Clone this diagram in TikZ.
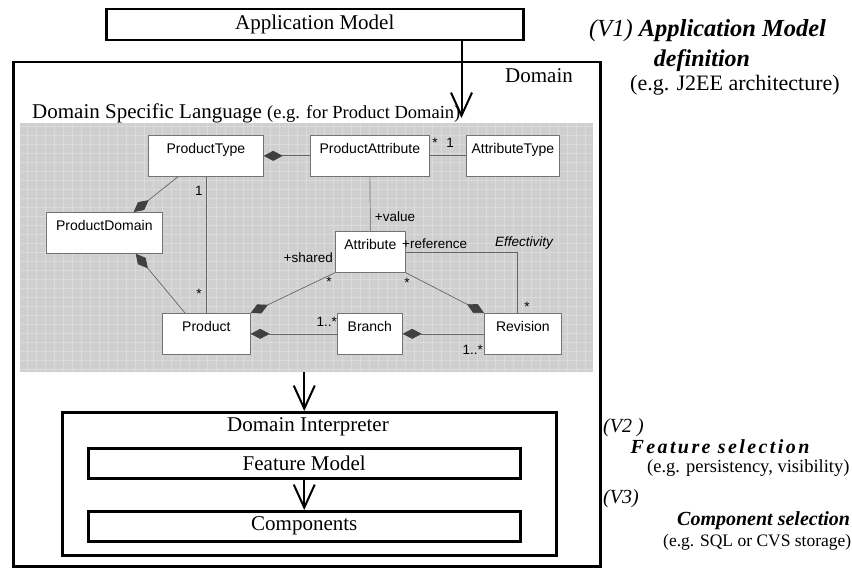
\documentclass[tikz,border=0pt]{standalone}
\usepackage{fontspec}
\setmainfont{Liberation Serif}
\setsansfont{Liberation Sans}
\usetikzlibrary{arrows.meta,calc}

\tikzset{
  bigbox/.style={draw, line width=2.5pt, anchor=north west, inner sep=0pt,
    font=\fontsize{21}{24}\selectfont},
  bigarrow/.style={line width=2pt, -{Straight Barb[length=23pt,width=21pt]}},
  cls/.style={draw=black!55, line width=0.7pt, fill=white, anchor=north west,
    inner xsep=0pt, inner ysep=3pt, minimum height=41pt,
    text height=15pt, text depth=20pt, font=\sffamily\fontsize{14}{16}\selectfont},
  uml/.style={draw=black!60, line width=0.7pt},
  comp/.style={uml, {Diamond[length=19pt,width=10pt,color=black!75,fill=black!75]}-},
  lbl/.style={inner sep=0pt, font=\sffamily\fontsize{13.5}{15}\selectfont},
  txt/.style={inner sep=0pt, font=\fontsize{21}{24}\selectfont},
  note/.style={inner sep=0pt, anchor=west}
}

\begin{document}
\begin{tikzpicture}[x=1pt,y=-1pt]
  \useasboundingbox (0,0) rectangle (852,575);

  % application model and domain frame
  \node (app) at (105,8) [bigbox, minimum width=417pt, minimum height=31pt]{Application Model};
  \node (domain) at (12,61) [bigbox, minimum width=587pt, minimum height=504pt]{};
  \node (domlbl) at (539,76) [txt]{Domain};
  \node (dsltitle) at (32,119) [inner sep=0pt, anchor=base west, font=\fontsize{21}{24}\selectfont]
    {Domain Specific Language {\fontsize{18.5}{20}\selectfont(e.g. for Product Domain)}};

  % grey class diagram panel
  \node (panel) at (20,123) [anchor=north west, fill=black!19, inner sep=0pt,
    minimum width=573pt, minimum height=249pt]{};
  \draw[black!14, line width=0.3pt, step=9pt] (panel.north west) grid (panel.south east);

  \node (ptype) at (148,135) [cls, minimum width=115pt]{ProductType};
  \node (pattr) at (310,135) [cls, minimum width=119pt]{ProductAttribute};
  \node (atype) at (466,135) [cls, minimum width=93pt]{AttributeType};
  \node (pdom) at (46,212) [cls, minimum width=116pt]{ProductDomain};
  \node (attr) at (335,231) [cls, minimum width=70pt]{Attribute};
  \node (prod) at (162,313) [cls, minimum width=88pt]{Product};
  \node (branch) at (337,313) [cls, minimum width=65pt]{Branch};
  \node (rev) at (484,313) [cls, minimum width=77pt]{Revision};

  \draw[comp] (ptype.east) -- (pattr.west);
  \draw[uml] (pattr.east) -- (atype.west);
  \draw[comp] ($(pdom.north east)+(-29,0)$) -- ($(ptype.south west)+(30,0)$);
  \draw[uml] (ptype.south) -- (ptype.south |- prod.north);
  \draw[comp] ($(pdom.south east)+(-27,0)$) -- ($(prod.north west)+(23,0)$);
  \draw[uml] (pattr.south) -- (attr.north);
  \draw[comp] (prod.north east) -- (attr.south west);
  \draw[comp] (prod.east) -- (branch.west);
  \draw[comp] (branch.east) -- (rev.west);
  \draw[comp] (rev.north west) -- (attr.south east);
  \draw[uml] (attr.east) -| ($(rev.north west)+(33,0)$);

  \node (m1) at (435,143) [lbl]{*};
  \node (m2) at (450,143) [lbl]{1};
  \node (m3) at (199,191) [lbl]{1};
  \node (m4) at (199,294) [lbl]{*};
  \node (m5) at (395,217) [lbl]{+value};
  \node (m6) at (333,258) [lbl, anchor=east]{+shared};
  \node (m7) at (329,282) [lbl]{*};
  \node (m8) at (407,283) [lbl]{*};
  \node (m9) at (402,244) [lbl, anchor=west]{+reference};
  \node (m10) at (524,243) [lbl, font=\sffamily\itshape\fontsize{13.5}{15}\selectfont]{Effectivity};
  \node (m11) at (527,307) [lbl]{*};
  \node (m12) at (337,322) [lbl, anchor=east]{1..*};
  \node (m13) at (483,350) [lbl, anchor=east]{1..*};

  % interpreter
  \node (interp) at (61,411) [bigbox, minimum width=494pt, minimum height=143pt]{};
  \node (interplbl) at (308,427) [txt]{Domain Interpreter};
  \node (feat) at (87,447) [bigbox, minimum width=432pt, minimum height=30pt]{Feature Model};
  \node (comps) at (87,510) [bigbox, minimum width=432pt, minimum height=30pt]{Components};

  \coordinate (appout) at ($(app.south east)+(-63,0)$);
  \draw[bigarrow, shorten >=5pt] (appout) -- (appout |- panel.north);
  \draw[bigarrow] (panel.south -| feat.north) -- (feat.north |- interp.north);
  \draw[bigarrow] (feat.south) -- (comps.north);

  % variability points
  \node (v1) at (589,31) [note, font=\fontsize{24.5}{26}\selectfont]
    {\itshape (V1) \bfseries Application Model};
  \node (v1def) at (702,61) [inner sep=0pt, font=\bfseries\itshape\fontsize{24}{26}\selectfont]{definition};
  \node (v1eg) at (630,85) [note, font=\fontsize{22}{24}\selectfont]{(e.g. J2EE architecture)};

  \node (v2) at (603,428) [note, font=\itshape\fontsize{20}{22}\selectfont]{(V2 )};
  \node (v2sel) at (720,447) [inner sep=0pt, font=\bfseries\itshape\fontsize{20}{22}\selectfont\addfontfeature{LetterSpace=12}]{Feature selection};
  \node (v2eg) at (647,468) [note, font=\fontsize{18.5}{20}\selectfont]{(e.g. persistency, visibility)};
  \node (v3) at (603,499) [note, font=\itshape\fontsize{20}{22}\selectfont]{(V3)};
  \node (v3sel) at (677,521) [note, font=\bfseries\itshape\fontsize{20}{22}\selectfont]{Component selection};
  \node (v3eg) at (663,542) [note, font=\fontsize{17.5}{19}\selectfont]{(e.g. SQL or CVS storage)};

\end{tikzpicture}
\end{document}
